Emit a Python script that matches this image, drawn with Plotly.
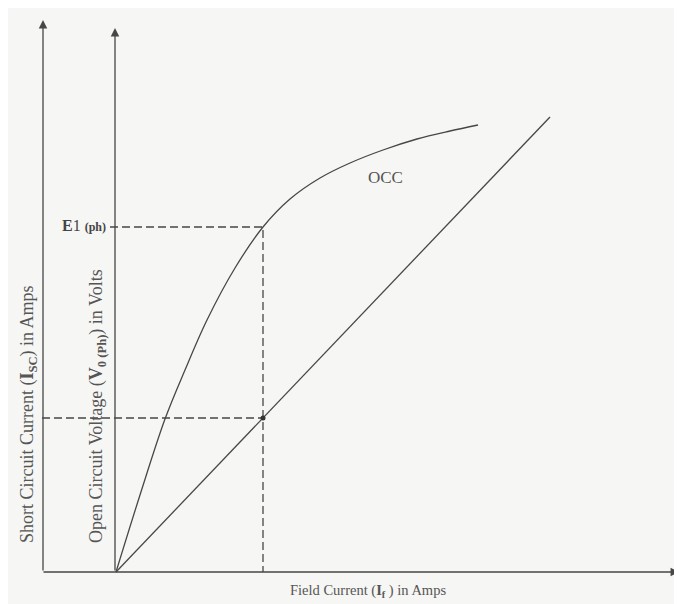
import plotly.graph_objects as go

# Open-circuit characteristic (arbitrary units)
field_current_occ = [0, 24, 49, 69, 91, 119, 147, 174, 204, 234, 267, 301, 334, 362]
occ_voltage = [0, 77, 153, 202, 252, 304, 345, 373, 394, 409, 422, 433, 441, 447]

# Short-circuit characteristic (straight line)
field_current_scc = [0, 434]
scc_current = [0, 455]

# Construction points
if_rated = 147      # field current at the construction
e1_ph = 345         # E1 (ph) on the OCC
isc_rated = 154     # short-circuit current at the same field current

line_col = "#474747"
text_col = "#555555"
serif = "Liberation Serif, Times New Roman, serif"

fig = go.Figure()

fig.add_trace(go.Scatter(x=field_current_occ, y=occ_voltage, mode="lines",
                         line=dict(color=line_col, width=1.3, shape="spline", smoothing=1.0),
                         hoverinfo="skip", showlegend=False))
fig.add_trace(go.Scatter(x=field_current_scc, y=scc_current, mode="lines",
                         line=dict(color=line_col, width=1.3),
                         hoverinfo="skip", showlegend=False))

# dashed construction lines
dash_style = dict(color=line_col, width=1.3, dash="8px,4px")
fig.add_trace(go.Scatter(x=[-6, if_rated, if_rated], y=[e1_ph, e1_ph, 0], mode="lines",
                         line=dash_style, hoverinfo="skip", showlegend=False))
fig.add_trace(go.Scatter(x=[-74, if_rated], y=[isc_rated, isc_rated], mode="lines",
                         line=dash_style, hoverinfo="skip", showlegend=False))
fig.add_trace(go.Scatter(x=[if_rated], y=[isc_rated], mode="markers",
                         marker=dict(color="#333333", size=5),
                         hoverinfo="skip", showlegend=False))

# axes with arrows
arrow = dict(showarrow=True, arrowhead=2, arrowsize=1.3, arrowwidth=1.3,
             arrowcolor=line_col, text="", xref="x", yref="y", axref="x", ayref="y")
fig.add_annotation(x=-73, y=552, ax=-73, ay=0, **arrow)
fig.add_annotation(x=-1, y=544, ax=-1, ay=0, **arrow)
fig.add_annotation(x=563, y=0, ax=-74, ay=0, **arrow)

# labels
fig.add_annotation(x=-88, y=158, xref="x", yref="y", showarrow=False, textangle=-90,
                   text="Short Circuit Current (<b>I</b><sub><b>SC</b></sub>) in Amps",
                   font=dict(family=serif, size=18, color=text_col))
fig.add_annotation(x=-19, y=166, xref="x", yref="y", showarrow=False, textangle=-90,
                   text="Open Circuit Voltage (<b>V</b><sub><b>0 (Ph)</b></sub>) in Volts",
                   font=dict(family=serif, size=18, color=text_col))
fig.add_annotation(x=252, y=-19, xref="x", yref="y", showarrow=False,
                   text="Field Current (<b>I</b><sub><b>f</b></sub> ) in Amps",
                   font=dict(family=serif, size=14.5, color=text_col))
fig.add_annotation(x=-32, y=347, xref="x", yref="y", showarrow=False,
                   text="<b>E</b>1 <b><span style='font-size:12px'>(ph)</span></b>",
                   font=dict(family=serif, size=16, color="#444444"))
fig.add_annotation(x=269, y=395, xref="x", yref="y", showarrow=False,
                   text="OCC", font=dict(family=serif, size=17, color=text_col))

# The page body adds an 8px offset; the figure is sized and ranged to compensate.
fig.update_xaxes(range=[-108, 566], visible=False, fixedrange=True)
fig.update_yaxes(range=[-32, 564], visible=False, fixedrange=True)
fig.update_layout(width=674, height=596, margin=dict(l=0, r=0, t=0, b=0),
                  paper_bgcolor="#f6f6f4", plot_bgcolor="#f6f6f4",
                  showlegend=False)

fig.write_html("out.html")
